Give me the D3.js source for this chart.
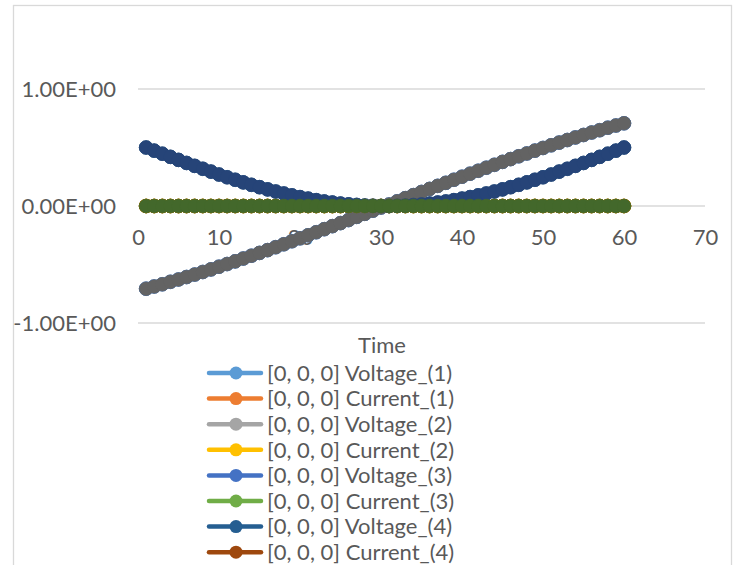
<!DOCTYPE html>
<html>
<head>
<meta charset="utf-8">
<script src="https://cdn.jsdelivr.net/npm/d3@7"></script>
<style>
  body { margin: 0; background: #fff; }
  text { font-family: Lato, "Open Sans", sans-serif; fill: #595959; }
</style>
</head>
<body>
<div id="chart"></div>
<script>
// Time steps
const time = [1,2,3,4,5,6,7,8,9,10,11,12,13,14,15,16,17,18,19,20,
  21,22,23,24,25,26,27,28,29,30,31,32,33,34,35,36,37,38,39,40,
  41,42,43,44,45,46,47,48,49,50,51,52,53,54,55,56,57,58,59,60];

// Voltage that rises from about -0.7 to 0.7
const voltageRise = [-0.707,-0.688,-0.669,-0.648,-0.628,-0.607,-0.586,-0.564,-0.542,-0.519,
  -0.496,-0.473,-0.449,-0.425,-0.401,-0.377,-0.352,-0.327,-0.301,-0.276,
  -0.250,-0.224,-0.198,-0.172,-0.146,-0.120,-0.093,-0.067,-0.040,-0.013,
  0.013,0.040,0.067,0.093,0.120,0.146,0.172,0.198,0.224,0.250,
  0.276,0.301,0.327,0.352,0.377,0.401,0.425,0.449,0.473,0.496,
  0.519,0.542,0.564,0.586,0.607,0.628,0.648,0.669,0.688,0.707];

// Voltage that dips to zero in the middle
const voltageDip = [0.500,0.473,0.447,0.420,0.394,0.368,0.343,0.318,0.294,0.269,
  0.246,0.224,0.202,0.181,0.161,0.142,0.124,0.107,0.091,0.076,
  0.063,0.050,0.039,0.030,0.021,0.014,0.009,0.004,0.002,0.000,
  0.000,0.002,0.004,0.009,0.014,0.021,0.030,0.039,0.050,0.063,
  0.076,0.091,0.107,0.124,0.142,0.161,0.181,0.202,0.224,0.246,
  0.269,0.294,0.318,0.343,0.368,0.394,0.420,0.447,0.473,0.500];

// Currents are all zero
const currentZero = [0,0,0,0,0,0,0,0,0,0,0,0,0,0,0,0,0,0,0,0,
  0,0,0,0,0,0,0,0,0,0,0,0,0,0,0,0,0,0,0,0,
  0,0,0,0,0,0,0,0,0,0,0,0,0,0,0,0,0,0,0,0];

const seriesNames = [
  "[0, 0, 0] Voltage_(1)", "[0, 0, 0] Current_(1)",
  "[0, 0, 0] Voltage_(2)", "[0, 0, 0] Current_(2)",
  "[0, 0, 0] Voltage_(3)", "[0, 0, 0] Current_(3)",
  "[0, 0, 0] Voltage_(4)", "[0, 0, 0] Current_(4)",
  "[0, 0, 0] Voltage_(5)", "[0, 0, 0] Current_(5)",
  "[0, 0, 0] Voltage_(6)", "[0, 0, 0] Current_(6)"
];
const seriesValues = [
  voltageRise, currentZero, voltageDip, currentZero,
  voltageRise, currentZero, voltageDip, currentZero,
  voltageRise, currentZero, voltageDip, currentZero
];
const seriesColors = [
  "#5B9BD5", "#ED7D31", "#A5A5A5", "#FFC000", "#4472C4", "#70AD47",
  "#255E91", "#9E480E", "#636363", "#997300", "#264478", "#43682B"
];

const xTicks = [0, 10, 20, 30, 40, 50, 60, 70];
const yTicks = [-1, 0, 1];
const yTickLabels = ["-1.00E+00", "0.00E+00", "1.00E+00"];

const W = 736, H = 565;
const svg = d3.select("#chart").append("svg")
  .attr("width", W)
  .attr("height", H);

// Chart border
svg.append("rect")
  .attr("x", 13.5).attr("y", 5.5)
  .attr("width", 718).attr("height", 600)
  .attr("fill", "#fff")
  .attr("stroke", "#D9D9D9")
  .attr("stroke-width", 1.3);

const x = d3.scaleLinear().domain([0, 70]).range([138, 705]);
const y = d3.scaleLinear().domain([-1, 1.5]).range([323, 30.5]);

// Gridlines
svg.append("g")
  .selectAll("line")
  .data(yTicks)
  .join("line")
  .attr("x1", x(0)).attr("x2", x(70))
  .attr("y1", d => y(d)).attr("y2", d => y(d))
  .attr("stroke", "#D9D9D9")
  .attr("stroke-width", 1.3);

// Y axis labels
const yAxis = svg.append("g")
  .attr("transform", `translate(${x(0) - 22},0)`)
  .call(d3.axisLeft(y).tickValues(yTicks).tickSize(0).tickPadding(0)
    .tickFormat((d, i) => yTickLabels[i]));
yAxis.select(".domain").remove();
yAxis.selectAll("text")
  .attr("font-size", 22)
  .attr("font-family", null)
  .attr("fill", null);

// X axis labels, placed below the zero line
const xAxis = svg.append("g")
  .attr("transform", `translate(0,${y(0) + 23})`)
  .call(d3.axisBottom(x).tickValues(xTicks).tickSize(0).tickPadding(0));
xAxis.select(".domain").remove();
xAxis.selectAll("text")
  .attr("font-size", 22)
  .attr("font-family", null)
  .attr("fill", null);

// Series: line then markers, one series at a time
const line = d3.line()
  .x((d, i) => x(time[i]))
  .y(d => y(d));

seriesValues.forEach((vals, s) => {
  const g = svg.append("g");
  g.append("path")
    .datum(vals)
    .attr("d", line)
    .attr("fill", "none")
    .attr("stroke", seriesColors[s])
    .attr("stroke-width", 3)
    .attr("stroke-linejoin", "round");
  g.selectAll("circle")
    .data(vals)
    .join("circle")
    .attr("cx", (d, i) => x(time[i]))
    .attr("cy", d => y(d))
    .attr("r", 6.8)
    .attr("fill", seriesColors[s])
    .attr("stroke", seriesColors[s])
    .attr("stroke-width", 0.75);
});

// Axis title
svg.append("text")
  .attr("x", 382)
  .attr("y", 353)
  .attr("text-anchor", "middle")
  .attr("font-size", 22)
  .text("Time");

// Legend
const legend = svg.append("g");
const rows = legend.selectAll("g")
  .data(seriesNames)
  .join("g")
  .attr("transform", (d, i) => `translate(0,${373 + i * 25.6})`);
rows.append("line")
  .attr("x1", 209).attr("x2", 261)
  .attr("stroke", (d, i) => seriesColors[i])
  .attr("stroke-width", 4.5)
  .attr("stroke-linecap", "round");
rows.append("circle")
  .attr("cx", 236)
  .attr("r", 6.5)
  .attr("fill", (d, i) => seriesColors[i]);
rows.append("text")
  .attr("x", 267)
  .attr("dy", "0.35em")
  .attr("font-size", 22)
  .text(d => d);
</script>
</body>
</html>
